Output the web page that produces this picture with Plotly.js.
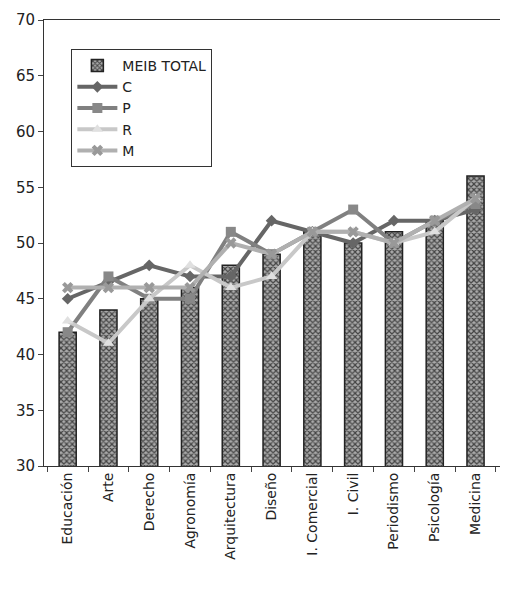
<!DOCTYPE html><html><head><meta charset="utf-8"><script src="https://cdn.plot.ly/plotly-3.0.1.min.js"></script></head><body style="margin:0"><div id="c" style="width:531px;height:610px"></div><script>
const categories=["Educación","Arte","Derecho","Agronomía","Arquitectura","Diseño","I. Comercial","I. Civil","Periodismo","Psicología","Medicina"];
const meib=[42,44,45,46,48,49,51,50,51,52,56];
const C=[45,46.5,48,47,47,52,51,50,52,52,53];
const P=[42,47,45,45,51,49,51,53,50,52,53.5];
const R=[43,41,45,48,46,47,51,51,50,51,54];
const M=[46,46,46,46,50,49,51,51,50,52,54];
const traces=[
{type:'bar',name:'MEIB TOTAL',x:categories,y:meib,base:0,marker:{color:'#777',line:{color:'#222',width:1.5},pattern:{shape:'x',fgcolor:'#444',bgcolor:'#aaa',size:4,solidity:0.5}},width:0.42},
{type:'scatter',mode:'lines+markers',name:'C',x:categories,y:C,line:{color:'#666',width:4},marker:{symbol:'diamond',size:9,color:'#666'}},
{type:'scatter',mode:'lines+markers',name:'P',x:categories,y:P,line:{color:'#808080',width:4},marker:{symbol:'square',size:10,color:'#888'}},
{type:'scatter',mode:'lines+markers',name:'R',x:categories,y:R,line:{color:'#c8c8c8',width:4},marker:{symbol:'triangle-up',size:10,color:'#e0e0e0'}},
{type:'scatter',mode:'lines+markers',name:'M',x:categories,y:M,line:{color:'#b0b0b0',width:4},marker:{symbol:'x',size:10,color:'#999'}}
];
Plotly.newPlot('c',traces,{width:531,height:610,margin:{l:44,r:31,t:20,b:144},paper_bgcolor:'#fff',plot_bgcolor:'#fff',
font:{family:'DejaVu Sans',size:14,color:'#222'},showlegend:true,
legend:{x:0.06,y:0.935,bordercolor:'#333',borderwidth:1,font:{size:14},bgcolor:'#fff',itemwidth:40,tracegroupgap:4},
xaxis:{tickangle:-90,showline:true,mirror:true,linecolor:'#333',ticks:'outside',tickson:'boundaries',tickfont:{size:14},range:[-0.58,10.6]},
yaxis:{range:[30,70],dtick:5,showline:true,linecolor:'#333',ticks:'outside',showgrid:false,zeroline:false,tickfont:{size:15}}},{displayModeBar:false});
</script></body></html>
